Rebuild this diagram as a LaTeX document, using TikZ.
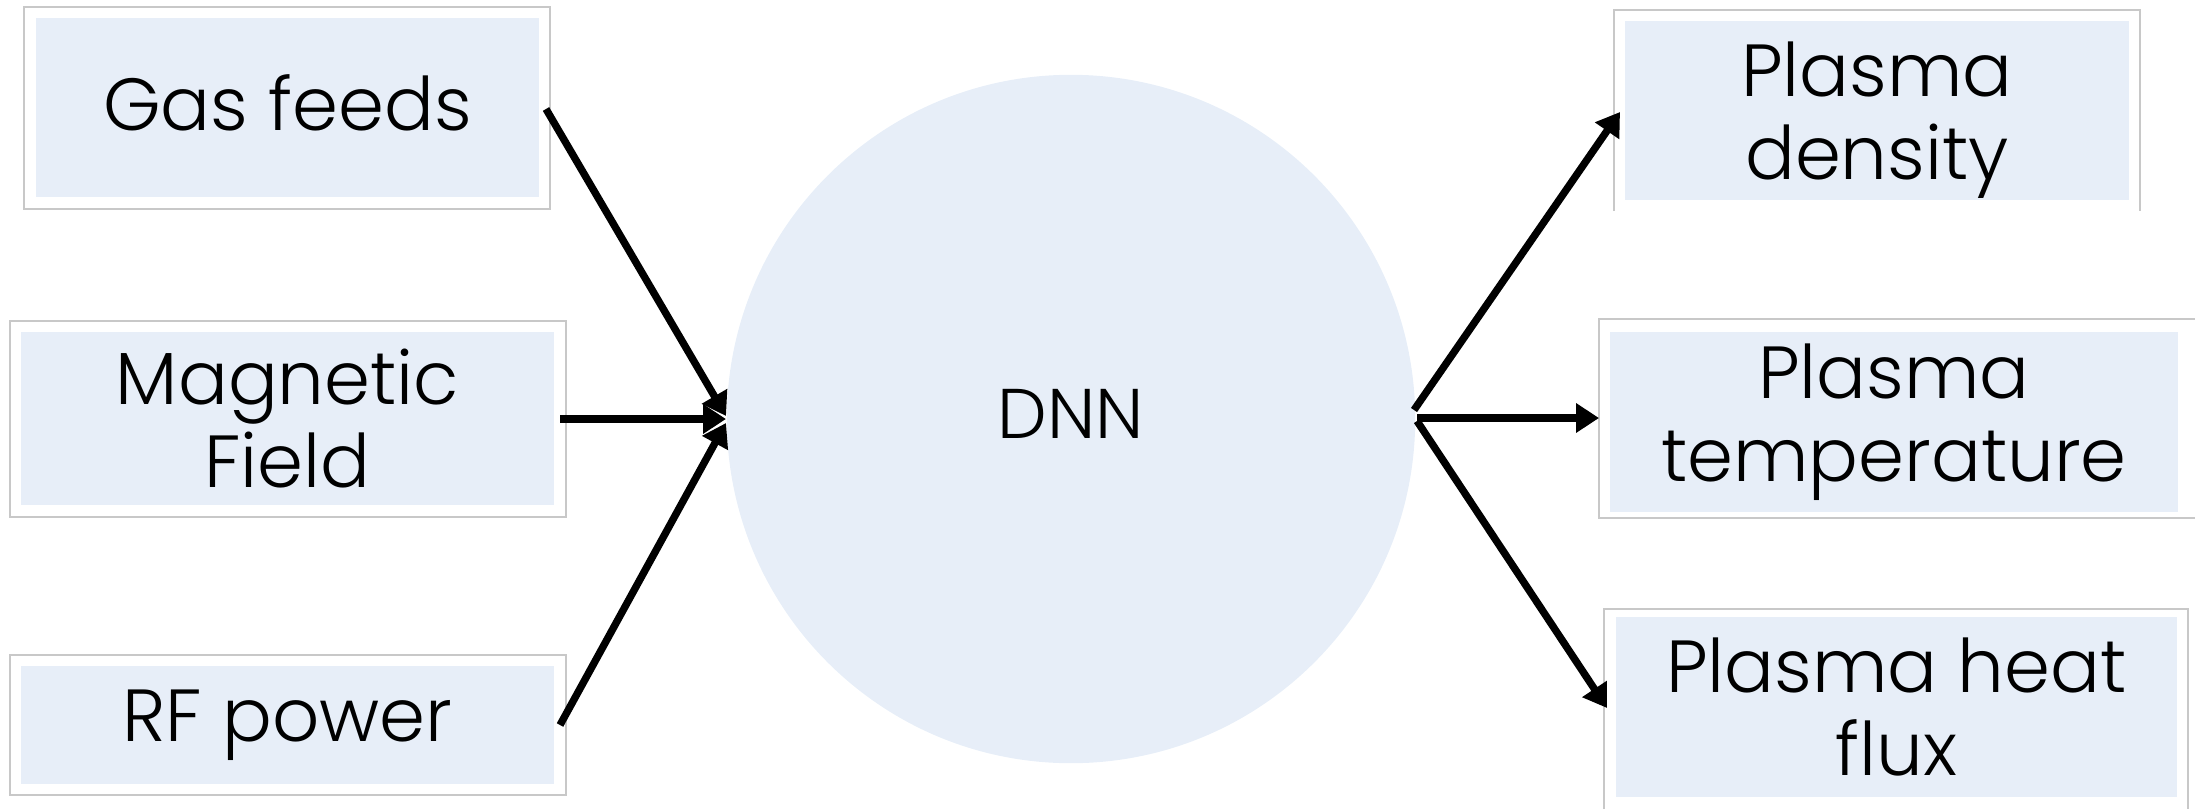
\documentclass[tikz,border=0pt]{standalone}
\usepackage{fontspec}
\setmainfont{Poppins Light}
\usetikzlibrary{arrows.meta}
\definecolor{boxfill}{HTML}{E7EEF8}
\definecolor{framegray}{HTML}{C8C8C8}
\begin{document}
\begin{tikzpicture}[x=0.01cm,y=-0.01cm,
  framebox/.style={draw=framegray, line width=0.5pt},
  fillbox/.style={fill=boxfill, inner sep=0pt, align=center, text=black,
    font=\fontsize{21}{23.5}\selectfont},
  arr/.style={line width=2.1pt, -{Triangle[length=6.5pt,width=8pt]}}]
\useasboundingbox (0,0) rectangle (2195,809);
% outer frames
\draw[framebox] (24,7) rectangle (550,209);
\draw[framebox] (10,321) rectangle (566,517);
\draw[framebox] (10,655) rectangle (566,795);
\draw[framebox] (1614,211) -- (1614,10) -- (2140,10) -- (2140,211);
\draw[framebox] (2195,319) -- (1599,319) -- (1599,518) -- (2195,518);
\draw[framebox] (1604,809) -- (1604,609) -- (2188,609) -- (2188,809);
% inner boxes
\fill[boxfill] (1625,21) rectangle (2129,200);
\fill[boxfill] (36,18) rectangle (539,197);
\node[fillbox, minimum width=5.03cm, minimum height=1.6cm] (gas) at (287.5,103) {Gas feeds};
\node[fillbox, minimum width=5.33cm, minimum height=1.73cm] (mag) at (287.5,418.5) {Magnetic\\Field};
\node[fillbox, minimum width=5.33cm, minimum height=1.18cm] (rf) at (287.5,725) {RF power};
\node[fillbox, minimum width=5.04cm, minimum height=1.6cm] (dens) at (1877,120) {Plasma\\density};
\node[fillbox, minimum width=5.68cm, minimum height=1.79cm] (temp) at (1894,422) {Plasma\\temperature};
\node[fillbox, minimum width=5.61cm, minimum height=1.79cm] (flux) at (1896.5,707) {Plasma heat\\flux};
% circle
\node[circle, fill=boxfill, minimum size=6.88cm, inner sep=0pt] (dnn) at (1071,419) {};
\node[font=\fontsize{20}{24}\selectfont, inner sep=0pt] (dnnlabel) at (1071,414) {DNN};
% connectors
\coordinate (gasout) at (546,109);
\coordinate (magout) at (560,419);
\coordinate (rfout) at (560,725);
\coordinate (in1) at (726,416);
\coordinate (in2) at (726,419);
\coordinate (in3) at (726,423);
\coordinate (out1) at (1414,410);
\coordinate (out2) at (1417,418);
\coordinate (out3) at (1417,421);
\coordinate (densin) at (1620,112);
\coordinate (tempin) at (1599,418);
\coordinate (fluxin) at (1607,708);
\draw[arr] (gasout) -- (in1);
\draw[arr] (magout) -- (in2);
\draw[arr] (rfout) -- (in3);
\draw[arr] (out1) -- (densin);
\draw[arr] (out2) -- (tempin);
\draw[arr] (out3) -- (fluxin);
\end{tikzpicture}
\end{document}
